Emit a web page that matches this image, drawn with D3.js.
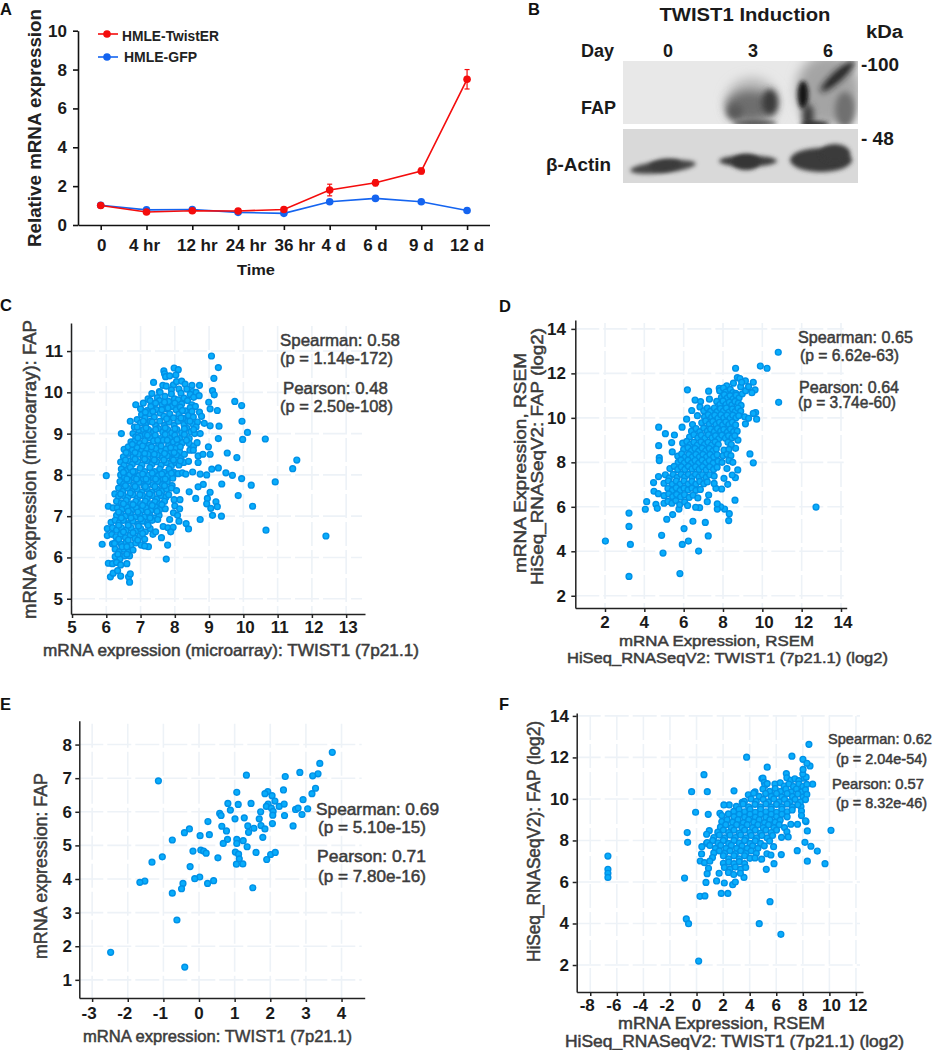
<!DOCTYPE html>
<html><head><meta charset="utf-8">
<script src="https://cdnjs.cloudflare.com/ajax/libs/d3/7.8.5/d3.min.js"></script>
<style>html,body{margin:0;padding:0;background:#fff}svg{display:block}text{font-family:"Liberation Sans",Arial,sans-serif}</style>
</head><body><div id="c"></div>
<script>
const timeLabels=["0","4 hr","12 hr","24 hr","36 hr","4 d","6 d","9 d","12 d"];
const twistER=[1.0,0.67,0.73,0.72,0.8,1.8,2.17,2.78,7.5];
const twistErr=[0.1,0.1,0.1,0.08,0.1,0.3,0.15,0.15,0.5];
const gfp=[1.02,0.78,0.8,0.65,0.6,1.2,1.37,1.2,0.75];
const gfpErr=[0.05,0.06,0.06,0.05,0.05,0.1,0.1,0.08,0.08];

const pointsC=[[6.0,7.98],[9.07,10.88],[9.27,10.6],[9.14,10.34],[9.1,10.04],[9.15,9.94],[8.99,9.76],[9.03,9.6],[9.24,9.56],[9.75,9.78],[9.95,9.68],[9.96,9.3],[9.29,9.18],[9.03,9.19],[10.12,9.03],[9.98,8.86],[10.64,8.87],[9.27,8.88],[8.98,8.68],[9.03,8.5],[9.53,8.53],[9.81,8.42],[11.56,8.36],[11.44,8.15],[10.93,7.83],[10.23,7.75],[9.95,7.91],[9.68,7.99],[9.49,8.05],[9.27,8.17],[9.08,8.14],[8.93,8.0],[8.74,8.02],[8.52,8.07],[9.37,7.78],[8.83,7.77],[8.68,7.71],[8.42,7.59],[9.03,7.58],[8.95,7.43],[8.61,7.43],[9.85,7.5],[10.27,7.24],[9.2,7.35],[9.24,7.23],[8.93,7.3],[9.05,7.19],[9.1,7.02],[9.36,7.0],[8.74,6.92],[8.33,6.82],[8.4,6.69],[10.66,6.66],[12.41,6.52],[7.75,5.96],[7.79,6.3],[7.61,6.48],[7.23,6.26],
[7.68,10.52],[7.7,10.45],[7.73,10.38],[7.85,10.4],[7.98,10.59],[8.1,10.55],[8.03,10.42],[7.38,10.24],[7.65,10.17],[7.75,10.15],[7.96,10.18],[8.05,10.26],[8.2,10.27],[8.3,10.2],[8.5,10.17],[8.72,10.17],[8.35,10.08],[8.52,10.02],[8.62,10.0],[7.55,10.02],[7.9,10.06],[8.12,10.08],
[7.33,9.97],[7.49,9.87],[7.57,10.0],[7.71,9.9],[7.9,9.96],[7.99,9.84],[8.18,9.98],[8.27,9.86],[8.45,9.95],[8.55,9.88],[8.71,9.92],
[7.08,9.74],[7.22,9.84],[7.36,9.72],[7.55,9.8],[7.63,9.7],[7.82,9.78],[7.92,9.66],[8.1,9.82],[8.2,9.72],[8.37,9.8],[8.5,9.7],
[6.86,9.7],[7.0,9.6],[7.19,9.56],[7.3,9.66],[7.46,9.58],[7.72,9.6],[8.04,9.58],[8.16,9.64],[8.31,9.55],[8.45,9.63],[8.6,9.66],
[7.03,9.46],[7.13,9.38],[7.27,9.48],[7.4,9.4],[7.57,9.5],[7.68,9.42],[7.85,9.48],[7.96,9.38],[8.12,9.47],[8.24,9.37],[8.4,9.44],[8.54,9.4],[8.72,9.52],[8.78,9.42],
[6.9,9.34],[7.0,9.26],[7.15,9.22],[7.29,9.3],[7.44,9.2],[7.56,9.3],[7.7,9.2],[7.83,9.28],[7.98,9.2],[8.1,9.3],[8.27,9.22],[8.38,9.3],[8.52,9.24],[8.66,9.28],
[6.7,9.3],[6.82,9.16],[6.95,9.08],[7.09,9.1],[7.23,9.1],[7.38,9.04],[7.52,9.12],[7.65,9.04],[7.79,9.1],[7.91,9.02],[8.06,9.1],[8.2,9.02],[8.35,9.13],[8.47,9.04],[8.62,9.16],[8.86,9.25],
[6.78,9.0],[6.86,8.92],[7.0,8.94],[7.14,8.98],[7.27,8.9],[7.43,8.96],[7.58,8.88],[7.72,8.98],[7.85,8.88],[8.0,8.96],[8.14,8.88],[8.28,8.98],[8.42,8.88],[8.58,9.0],[8.74,9.0],
[6.44,9.0],[6.72,8.8],[6.84,8.82],[6.98,8.76],[7.12,8.82],[7.25,8.72],[7.38,8.82],[7.53,8.74],[7.66,8.84],[7.82,8.72],[7.96,8.8],[8.08,8.72],[8.22,8.78],[8.42,8.76],[8.55,8.7],[8.65,8.78],
[6.52,8.62],[6.64,8.68],[6.76,8.6],[6.9,8.66],[7.03,8.58],[7.17,8.64],[7.31,8.56],[7.45,8.64],[7.6,8.58],[7.74,8.62],[7.88,8.54],[8.02,8.64],[8.14,8.56],[8.44,8.6],[8.54,8.6],
[6.5,8.44],[6.63,8.52],[6.78,8.44],[6.94,8.5],[7.08,8.42],[7.22,8.5],[7.36,8.4],[7.49,8.48],[7.64,8.42],[7.78,8.46],[7.92,8.38],[8.05,8.48],[8.18,8.4],[8.68,8.46],[8.82,8.5],
[6.42,8.31],[6.52,8.24],[6.64,8.34],[6.76,8.26],[6.92,8.32],[7.04,8.24],[7.18,8.34],[7.33,8.26],[7.47,8.32],[7.6,8.24],[7.75,8.3],[7.9,8.22],[8.02,8.3],[8.12,8.24],[8.26,8.3],[8.4,8.33],[8.68,8.3],
[6.44,8.14],[6.58,8.1],[6.7,8.18],[6.84,8.08],[6.99,8.16],[7.12,8.08],[7.27,8.18],[7.41,8.08],[7.56,8.14],[7.68,8.06],[7.83,8.14],[7.97,8.06],
[6.42,8.0],[6.53,7.94],[6.68,8.0],[6.82,7.92],[6.95,7.98],[7.08,7.9],[7.24,7.99],[7.38,7.92],[7.52,7.98],[7.66,7.9],[7.8,7.98],[7.94,7.92],[8.1,8.03],[8.22,8.05],[8.32,8.02],
[6.4,7.84],[6.51,7.78],[6.66,7.85],[6.8,7.76],[6.95,7.82],[7.1,7.74],[7.22,7.84],[7.36,7.76],[7.5,7.84],[7.64,7.76],[7.78,7.83],[7.92,7.74],
[6.36,7.68],[6.48,7.6],[6.62,7.68],[6.76,7.6],[6.9,7.66],[7.04,7.58],[7.19,7.67],[7.33,7.58],[7.47,7.66],[7.62,7.6],[7.76,7.66],[7.9,7.68],[8.05,7.62],
[6.25,7.54],[6.36,7.48],[6.5,7.5],[6.63,7.46],[6.78,7.52],[6.91,7.44],[7.06,7.5],[7.2,7.44],[7.34,7.5],[7.48,7.42],[7.6,7.5],[7.74,7.46],
[6.3,7.36],[6.44,7.32],[6.58,7.38],[6.72,7.3],[6.86,7.36],[7.0,7.3],[7.14,7.36],[7.28,7.3],[7.42,7.35],[7.56,7.3],[7.7,7.36],[7.98,7.4],[8.15,7.4],
[6.06,7.24],[6.2,7.2],[6.32,7.2],[6.46,7.16],[6.6,7.22],[6.74,7.14],[6.88,7.2],[7.02,7.14],[7.16,7.2],[7.3,7.14],[7.44,7.22],[7.56,7.16],[7.72,7.18],[8.0,7.25],[8.14,7.18],
[6.3,7.02],[6.42,7.06],[6.56,7.0],[6.7,7.06],[6.84,6.98],[6.98,7.04],[7.12,6.98],[7.26,7.04],[7.4,6.96],[7.54,7.02],[7.96,7.08],[8.08,7.02],
[6.14,6.85],[6.26,6.9],[6.38,6.84],[6.5,6.9],[6.64,6.82],[6.78,6.88],[6.92,6.8],[7.06,6.88],[7.2,6.82],[7.34,6.9],[7.5,6.92],[7.85,6.92],[8.12,6.88],
[6.03,6.7],[6.18,6.72],[6.3,6.66],[6.44,6.72],[6.58,6.66],[6.72,6.72],[6.86,6.64],[7.0,6.7],[7.14,6.62],[7.28,6.7],[7.66,6.75],[7.8,6.72],[7.95,6.73],[7.88,6.62],
[6.03,6.53],[6.16,6.56],[6.28,6.5],[6.42,6.56],[6.56,6.48],[6.7,6.54],[6.84,6.46],[6.98,6.52],[7.12,6.44],[7.36,6.56],[7.44,6.62],
[5.88,6.32],[6.18,6.33],[6.3,6.38],[6.44,6.32],[6.58,6.36],[6.72,6.3],[6.86,6.35],[7.02,6.3],[7.12,6.28],
[6.26,6.2],[6.38,6.14],[6.52,6.2],[6.65,6.14],[6.78,6.18],[6.26,6.02],[6.4,5.97],[6.54,6.04],[6.68,6.04],
[6.06,5.86],[6.18,5.85],[6.3,5.88],[6.42,5.82],[6.6,5.85],[6.12,5.53],[6.2,5.62],[6.33,5.68],[6.42,5.55],[6.65,5.53],[6.7,5.6],[6.68,5.4],
[7.28,9.8],[7.44,9.74],[7.7,9.76],[8.0,9.74],[7.14,9.52],[7.36,9.54],[7.62,9.58],[7.8,9.62],[8.22,9.56],[8.5,9.54],[7.08,9.3],[7.34,9.28],[7.76,9.36],[8.18,9.38],[8.44,9.3],[6.9,9.16],[7.16,9.14],[7.44,9.1],[7.72,9.14],[8.0,9.12],[8.28,9.12],[8.55,9.1],
[6.92,8.9],[7.2,8.96],[7.5,8.84],[7.78,8.84],[8.06,8.86],[8.34,8.84],[6.76,8.74],[7.06,8.7],[7.32,8.68],[7.6,8.7],[7.88,8.66],[8.16,8.68],[6.58,8.54],[6.84,8.54],[7.12,8.52],[7.4,8.5],[7.7,8.52],[7.98,8.54],[8.28,8.5],[6.56,8.36],[6.84,8.38],[7.12,8.38],[7.4,8.36],[7.68,8.36],[7.96,8.36],[8.16,8.34],
[6.5,8.06],[6.78,8.08],[7.06,8.02],[7.34,8.04],[7.62,8.02],[7.9,8.04],[6.6,7.9],[6.88,7.9],[7.16,7.9],[7.44,7.9],[7.72,7.9],[6.56,7.74],[6.84,7.72],[7.14,7.72],[7.42,7.72],[7.7,7.74],[6.42,7.54],[6.7,7.56],[6.98,7.52],[7.26,7.54],[7.54,7.56],[7.82,7.52],[6.5,7.3],[6.78,7.28],[7.06,7.26],[7.34,7.26],[7.62,7.28],[6.36,7.1],[6.64,7.12],[6.92,7.1],[7.2,7.1],[7.48,7.12],[6.44,6.96],[6.72,6.96],[7.0,6.94],[7.28,6.96],[6.36,6.78],[6.64,6.78],[6.94,6.76],[7.22,6.78],[6.5,6.62],[6.78,6.6],[7.06,6.58],[6.36,6.44],[6.64,6.42],[6.92,6.42],[6.46,6.26],[6.6,6.26],[6.34,6.08],[6.6,6.08],[6.24,6.34]];

const pointsD=[[10.81,12.95],[9.9,12.33],[10.24,12.23],[8.64,12.23],[10.83,10.7],[12.73,5.99],[2.02,4.46],[3.22,5.72],[3.22,5.12],[3.29,4.31],[3.22,2.87],[5.81,3.0],[4.95,3.92],[4.88,4.72],[5.93,4.31],[6.24,4.46],[6.76,4.01],[7.25,4.69],[6.02,5.02],[5.14,5.44],[5.44,5.65],[6.47,5.35],[7.1,5.3],[8.29,5.38],[8.32,5.69],[8.08,5.9],[7.88,6.0],[7.71,5.9],[7.71,6.13],[8.61,6.3],[9.54,7.98],[9.37,8.38],[6.81,5.96],[6.61,5.98],[5.76,5.9],[4.05,5.89],[4.12,6.23],[4.59,6.11],[4.66,5.93],[4.47,7.09],[4.49,6.7],[4.71,6.59],[4.73,9.58],[5.07,9.29],[5.53,9.23],[5.39,8.89],[4.73,8.75],[4.76,8.21],[4.76,8.08],[5.42,8.47],[5.92,9.58],[6.19,11.26],[7.27,11.2],[6.58,10.8],[6.86,10.73],[7.31,10.84],[6.83,10.49],[6.41,10.33],[6.15,9.94],[9.71,9.94],[9.66,10.24],[9.54,10.2],[9.14,9.73],[9.54,11.6],[9.63,11.26],[9.47,11.13],[9.14,11.66],[8.73,11.81],[8.86,11.77],[7.81,11.33],[8.19,11.44],[8.53,11.56],[8.76,9.0],[8.64,8.63],[8.75,7.66],[8.63,7.31],[8.47,7.43],[8.05,7.28],[8.24,7.01],[7.93,6.8],[7.64,6.83],[7.27,6.53],[7.2,6.23],
[7.83,11.22],[8.02,11.34],[8.15,11.16],[8.37,11.28],[8.5,11.14],[8.65,11.1],[7.92,10.92],[8.07,11.04],[8.22,10.9],[8.36,11.0],[8.52,10.86],[8.67,11.02],[8.82,10.9],[8.98,11.08],[9.15,11.22],[9.3,11.4],[8.9,11.4],[8.95,11.6],
[7.68,10.74],[7.84,10.6],[8.0,10.76],[8.15,10.6],[8.32,10.7],[8.45,10.58],[8.61,10.74],[8.78,10.66],[8.92,10.56],
[7.02,10.32],[7.2,10.44],[7.37,10.3],[7.56,10.44],[7.7,10.28],[7.87,10.42],[8.02,10.3],[8.17,10.44],[8.31,10.26],[8.48,10.4],[8.62,10.28],[8.76,10.44],[8.9,10.3],
[6.7,10.1],[7.06,10.04],[7.25,10.14],[7.42,10.02],[7.58,10.12],[7.74,9.98],[7.89,10.14],[8.04,10.0],[8.2,10.12],[8.36,9.98],[8.5,10.12],[8.66,10.0],[8.8,10.1],[9.1,10.05],[9.3,9.98],
[6.92,9.78],[7.12,9.86],[7.3,9.72],[7.48,9.84],[7.64,9.7],[7.82,9.8],[7.98,9.68],[8.14,9.82],[8.3,9.7],[8.47,9.8],[8.64,9.68],[6.45,9.7],
[6.4,9.4],[6.63,9.52],[6.82,9.38],[7.02,9.54],[7.2,9.4],[7.37,9.5],[7.56,9.38],[7.72,9.52],[7.88,9.4],[8.04,9.48],[8.22,9.36],[8.38,9.5],[8.54,9.38],[8.72,9.4],
[6.3,9.14],[6.52,9.24],[6.72,9.1],[6.9,9.22],[7.08,9.08],[7.26,9.24],[7.44,9.1],[7.62,9.2],[7.78,9.06],[7.94,9.22],[8.12,9.08],[8.28,9.2],[8.46,9.1],[8.6,9.2],
[5.95,8.86],[6.16,8.94],[6.34,8.8],[6.52,8.9],[6.7,8.78],[6.88,8.92],[7.06,8.8],[7.24,8.9],[7.42,8.78],[7.6,8.92],[7.76,8.8],[8.25,8.9],[8.42,8.8],
[6.0,8.58],[6.22,8.66],[6.4,8.52],[6.58,8.62],[6.76,8.5],[6.94,8.64],[7.12,8.52],[7.3,8.62],[7.48,8.5],[7.66,8.6],[8.05,8.55],[8.3,8.58],
[5.7,8.28],[5.9,8.38],[6.08,8.24],[6.26,8.36],[6.44,8.24],[6.62,8.36],[6.8,8.24],[6.98,8.36],[7.16,8.24],[7.34,8.36],[7.52,8.24],[7.7,8.34],[8.0,8.3],[8.2,8.36],[8.4,8.3],
[5.72,8.0],[5.86,8.1],[6.04,7.98],[6.22,8.1],[6.4,7.96],[6.58,8.08],[6.76,7.96],[6.94,8.1],[7.12,7.98],[7.3,8.08],[7.5,7.96],[7.75,8.05],[7.95,8.0],[8.3,8.08],[8.5,8.0],
[5.3,7.72],[5.52,7.82],[5.7,7.68],[5.88,7.8],[6.06,7.68],[6.24,7.82],[6.42,7.7],[6.6,7.8],[6.78,7.68],[6.96,7.8],[7.14,7.66],[7.32,7.8],[7.52,7.68],[7.7,7.78],[8.2,7.72],
[4.72,7.36],[5.07,7.44],[5.27,7.3],[5.47,7.46],[5.67,7.32],[5.87,7.46],[6.05,7.34],[6.24,7.46],[6.42,7.32],[6.6,7.46],[6.78,7.34],[6.96,7.44],[7.14,7.32],[7.32,7.44],[7.55,7.38],
[5.0,7.06],[5.22,7.16],[5.42,7.02],[5.62,7.16],[5.82,7.02],[6.02,7.16],[6.22,7.02],[6.42,7.14],[6.62,7.02],[6.82,7.14],[7.02,7.04],[7.2,7.12],[7.55,7.05],
[5.2,6.82],[5.42,6.74],[5.62,6.86],[5.82,6.74],[6.02,6.84],[6.22,6.76],[6.42,6.84],[6.62,6.74],[6.85,6.78],
[5.0,6.5],[5.24,6.58],[5.44,6.46],[5.64,6.56],[5.84,6.44],[6.04,6.54],[6.28,6.42],[6.48,6.52],[6.72,6.4],
[5.0,6.16],[5.2,6.24],[5.4,6.16],[5.6,6.28],[5.8,6.1],[6.05,6.22],[6.2,6.06]];

const pointsE=[[3.74,7.77],[3.39,7.44],[3.34,7.13],[3.19,7.07],[2.83,7.17],[2.42,7.05],[1.33,7.09],[-1.14,6.92],[3.27,6.7],[3.17,6.54],[2.37,6.65],[1.06,6.58],[1.93,6.6],[1.85,6.54],[2.05,6.48],[2.92,6.36],[2.13,6.32],[0.81,6.25],[1.1,6.22],[1.46,6.25],[1.94,6.23],[1.89,6.16],[2.03,6.11],[2.25,6.16],[2.39,6.23],[0.88,6.05],[0.58,5.95],[0.62,5.89],[1.73,6.0],[2.08,6.01],[2.07,5.9],[2.4,5.89],[2.71,6.07],[2.78,6.11],[3.05,6.09],[2.89,5.92],[1.01,5.79],[1.27,5.82],[1.69,5.79],[0.25,5.71],[2.06,5.65],[0.64,5.57],[1.37,5.58],[1.74,5.59],[2.64,5.58],[0.77,5.43],[1.39,5.39],[1.54,5.51],[1.85,5.49],[-0.27,5.49],[-0.41,5.38],[0.03,5.29],[0.29,5.32],[1.79,5.24],[-0.75,5.16],[0.8,5.18],[0.68,5.06],[1.06,5.18],[1.06,5.06],[1.24,5.14],[1.35,4.96],[-0.17,4.83],[0.05,4.86],[0.13,4.83],[0.2,4.77],[1.02,4.8],[1.6,4.79],[1.11,4.74],[2.01,4.73],[2.14,4.79],[0.53,4.63],[-1.03,4.66],[-1.32,4.5],[1.13,4.6],[1.9,4.58],[1.05,4.44],[1.23,4.45],[-0.25,4.37],[0.02,4.06],[-0.12,4.01],[-0.45,3.87],[-1.52,3.94],[-1.66,3.9],[0.41,3.95],[0.24,3.87],[-0.49,3.71],[-0.75,3.58],[1.51,3.74],[-0.62,2.78],[-2.48,1.82],[-0.4,1.38]];

const pointsF=[[8.46,12.63],[3.77,12.01],[7.18,12.06],[8.01,11.91],[8.54,11.59],[0.56,11.17],[5.32,11.53],[-0.37,10.35],[0.81,10.35],[2.82,10.39],[-0.07,9.36],[0.88,9.26],[10.12,8.49],[-0.7,8.38],[-0.67,7.91],[-6.67,7.25],[-6.67,6.61],[-6.67,6.42],[-6.67,6.22],[-0.9,6.19],[0.28,7.01],[0.38,7.35],[9.67,6.88],[9.09,7.49],[8.61,7.72],[8.34,7.0],[7.58,7.51],[8.16,7.91],[5.25,6.61],[5.83,6.88],[6.38,7.32],[0.71,5.98],[1.51,6.05],[2.09,5.95],[2.72,5.87],[2.92,6.0],[3.57,6.22],[1.86,5.45],[2.36,5.45],[0.26,5.31],[0.63,5.33],[5.53,5.05],[-0.77,4.22],[-0.6,3.99],[4.72,3.99],[6.35,3.48],[0.16,2.19],[8.74,10.71],[8.31,11.72],[6.76,11.22],[4.92,10.98],[3.44,9.84],[2.46,9.71],[2.06,9.71],[1.76,9.31],[7.86,9.63],[8.24,8.91],[8.34,8.46],[7.6,8.78],[0.96,8.47],[0.76,8.3],[0.76,7.86],
[5.0,11.0],[5.1,10.8],[6.8,11.02],[7.1,10.9],[7.4,10.97],[7.7,10.88],[8.1,11.0],[8.25,11.05],[8.0,11.2],[8.02,11.42],
[5.15,10.66],[5.32,10.74],[5.9,10.72],[6.3,10.78],[6.6,10.62],[6.95,10.72],[7.3,10.6],[7.7,10.72],[8.0,10.6],[8.3,10.7],
[4.4,10.34],[5.0,10.48],[5.5,10.36],[5.92,10.5],[6.32,10.36],[6.72,10.48],[7.12,10.34],[7.52,10.48],[7.92,10.34],[8.2,10.45],
[3.9,10.2],[4.3,10.28],[4.72,10.12],[5.2,10.26],[5.62,10.12],[6.02,10.26],[6.42,10.1],[6.82,10.26],[7.22,10.12],[7.62,10.24],[8.02,10.1],[8.3,10.22],
[3.6,9.88],[4.1,10.0],[4.5,9.88],[5.02,9.98],[5.42,9.86],[5.82,10.0],[6.22,9.86],[6.62,9.98],[7.02,9.86],[7.42,9.98],[7.82,9.86],[8.2,9.97],
[3.0,9.64],[3.5,9.76],[3.92,9.62],[4.4,9.74],[4.82,9.62],[5.22,9.76],[5.62,9.62],[6.02,9.74],[6.42,9.62],[6.82,9.76],[7.22,9.62],[7.62,9.72],
[2.8,9.4],[3.2,9.5],[3.62,9.38],[4.02,9.5],[4.42,9.36],[4.82,9.5],[5.22,9.38],[5.62,9.5],[6.02,9.36],[6.42,9.5],[6.82,9.38],[7.2,9.47],[7.9,9.42],
[1.9,9.2],[2.4,9.28],[2.82,9.14],[3.22,9.26],[3.62,9.12],[4.02,9.26],[4.42,9.12],[4.82,9.26],[5.22,9.12],[5.62,9.26],[6.02,9.14],[6.42,9.26],[6.82,9.14],[7.9,9.2],
[1.9,8.9],[2.3,9.0],[2.72,8.88],[3.12,9.0],[3.52,8.86],[3.92,9.0],[4.32,8.88],[4.72,9.0],[5.12,8.86],[5.52,9.0],[5.92,8.88],[6.3,8.98],[8.2,8.95],
[1.8,8.64],[2.2,8.76],[2.62,8.62],[3.02,8.76],[3.42,8.62],[3.82,8.76],[4.22,8.62],[4.62,8.76],[5.02,8.62],[5.42,8.76],[5.82,8.62],[6.22,8.76],[6.62,8.62],[7.1,8.78],
[1.6,8.4],[2.02,8.5],[2.42,8.38],[2.82,8.5],[3.22,8.36],[3.62,8.5],[4.02,8.38],[4.42,8.5],[4.82,8.36],[5.22,8.5],[5.62,8.38],[6.02,8.5],[6.8,8.42],
[1.3,8.14],[1.72,8.26],[2.12,8.12],[2.52,8.26],[2.92,8.14],[3.32,8.26],[3.72,8.12],[4.12,8.24],[4.52,8.12],[4.92,8.24],[5.32,8.12],[5.72,8.24],[6.4,8.15],[6.9,8.17],
[0.8,7.9],[1.22,8.0],[1.62,7.88],[2.02,8.0],[2.42,7.86],[2.82,8.0],[3.22,7.88],[3.62,8.0],[4.02,7.86],[4.42,7.98],[4.82,7.86],[5.5,7.97],
[0.4,7.7],[1.0,7.76],[1.42,7.62],[1.82,7.76],[2.22,7.62],[2.62,7.76],[3.02,7.62],[3.42,7.74],[3.82,7.62],[4.22,7.74],[4.62,7.62],[5.1,7.74],[5.8,7.7],
[1.3,7.4],[1.72,7.5],[2.12,7.38],[2.52,7.5],[2.92,7.36],[3.32,7.5],[3.72,7.38],[4.12,7.5],[4.5,7.38],[5.3,7.36],
[1.2,7.18],[2.02,7.26],[2.42,7.12],[2.82,7.26],[3.22,7.12],[3.62,7.26],[4.02,7.14],[4.4,7.16],[4.9,7.1],[5.6,7.3],
[0.6,6.93],[1.0,7.0],[2.02,6.9],[2.42,6.96],[2.82,6.88],[3.22,6.98],[3.62,6.88],
[0.9,6.66],[2.1,6.7],[2.52,6.62],[2.92,6.72],[3.32,6.62],[3.7,6.7],
[0.8,6.4],[1.7,6.42],[2.4,6.46],[2.8,6.36],[3.3,6.42]];

const W=933,H=1050;
const svg=d3.select("#c").append("svg").attr("width",W).attr("height",H);
const defs=svg.append("defs");
[["b6",6],["b5",5],["b3",3],["b2",2],["b7",8]].forEach(([id,s])=>defs.append("filter").attr("id",id).attr("x","-80%").attr("y","-80%").attr("width","260%").attr("height","260%").append("feGaussianBlur").attr("stdDeviation",s));

const DARK="#1a1a1a",GREY="#3c3c3c";
function txt(x,y,s,o={}){
  const t=svg.append("text").attr("x",x).attr("y",y).text(s)
    .attr("font-size",o.size||16).attr("font-weight",o.weight||"bold").attr("fill",o.fill||DARK)
    .attr("text-anchor",o.anchor||"start");
  if(o.len){t.attr("textLength",o.len).attr("lengthAdjust","spacingAndGlyphs");}
  if(o.stroke){t.attr("stroke",o.fill||DARK).attr("stroke-width",o.stroke);}
  if(o.rot!=null){t.attr("transform",`rotate(${o.rot} ${x} ${y})`);}
  return t;
}
function medium(x,y,s,len,size,extra={}){return txt(x,y,s,Object.assign({len,size,weight:"normal",fill:GREY,stroke:0.5},extra));}

// panel letters
[["A",0,15],["B",528,15],["C",0,311],["D",499,312],["E",0,710],["F",499,710]].forEach(d=>txt(d[1],d[2],d[0],{size:16.5,fill:"#111"}));

// Panel A
(function(){
  const x=d3.scaleLinear().domain([-0.496,8.49]).range([78,489.5]);
  const y=d3.scaleLinear().domain([0,10]).range([225,30.7]);
  const gx=svg.append("g").attr("transform","translate(0,225)").call(d3.axisBottom(x).tickValues(d3.range(9)).tickSize(5).tickSizeOuter(0).tickFormat(""));
  const gy=svg.append("g").attr("transform","translate(78,0)").call(d3.axisLeft(y).tickValues(d3.range(0,11,2)).tickSize(5).tickSizeOuter(0).tickFormat(""));
  [gx,gy].forEach(g=>{g.selectAll("path,line").attr("stroke","#111").attr("stroke-width",1.6);});
  d3.range(0,11,2).forEach(v=>txt(67,y(v)+6,String(v),{size:17,anchor:"end"}));
  const shift=[1,-2,5,8,11,4,0,0,0];
  timeLabels.forEach((l,i)=>txt(x(i)+shift[i],251,l,{size:17,anchor:"middle"}));
  txt(256,275,"Time",{size:15.5,anchor:"middle",len:38});
  txt(41,247,"Relative mRNA expression",{size:17.5,rot:-90,len:238,weight:"bold"}).attr("fill","#222");
  const line=d3.line().x((d,i)=>x(i)).y(d=>y(d));
  [[gfp,gfpErr,"#1464f0"],[twistER,twistErr,"#f40c0c"]].forEach(([v,e,c])=>{
    svg.append("path").attr("d",line(v)).attr("fill","none").attr("stroke",c).attr("stroke-width",1.6);
    const g=svg.append("g");
    v.forEach((d,i)=>{
      g.append("line").attr("x1",x(i)).attr("x2",x(i)).attr("y1",y(d-e[i])).attr("y2",y(d+e[i])).attr("stroke",c).attr("stroke-width",1.2);
      [d-e[i],d+e[i]].forEach(q=>g.append("line").attr("x1",x(i)-2.5).attr("x2",x(i)+2.5).attr("y1",y(q)).attr("y2",y(q)).attr("stroke",c).attr("stroke-width",1.2));
      g.append("circle").attr("cx",x(i)).attr("cy",y(d)).attr("r",3.8).attr("fill",c);
    });
  });
  [[34,"HMLE-TwistER","#f40c0c",122,41,97],[57,"HMLE-GFP","#1464f0",124,62,73]].forEach(d=>{
    svg.append("line").attr("x1",98).attr("x2",118).attr("y1",d[0]).attr("y2",d[0]).attr("stroke",d[2]).attr("stroke-width",1.6);
    svg.append("circle").attr("cx",107).attr("cy",d[0]).attr("r",3.8).attr("fill",d[2]);
    txt(d[3],d[4],d[1],{size:15,len:d[5],fill:"#222"});
  });
})();

// Panel B blot
(function(){
  svg.append("clipPath").attr("id","p1").append("rect").attr("x",623).attr("y",61).attr("width",235).attr("height",63);
  svg.append("clipPath").attr("id","p2").append("rect").attr("x",623).attr("y",129).attr("width",235).attr("height",54);
  const g1=svg.append("g").attr("clip-path","url(#p1)");
  g1.append("rect").attr("x",623).attr("y",61).attr("width",235).attr("height",63).attr("fill","#e8e8e8");
  const blob=(g,cx,cy,rx,ry,f,flt,rot)=>g.append("ellipse").attr("cx",cx).attr("cy",cy).attr("rx",rx).attr("ry",ry).attr("fill",f).attr("filter",`url(#${flt})`).attr("transform",rot?`rotate(${rot} ${cx} ${cy})`:null);
  blob(g1,752,102,26,24,"#b4b4b4","b6");
  blob(g1,750,106,24,15,"#6e6e6e","b5");
  blob(g1,770,102,8,13,"#3a3a3a","b3");
  blob(g1,735,112,8,8,"#5a5a5a","b3");
  blob(g1,755,123,22,3,"#555","b2");
  blob(g1,828,90,32,36,"#a4a4a4","b6");
  blob(g1,845,110,10,18,"#707070","b3");
  blob(g1,803,95,5.5,14,"#141414","b2");
  blob(g1,808,116,6,12,"#3a3a3a","b3");
  blob(g1,838,76,23,5,"#1e1e1e","b3",-42);
  blob(g1,815,124,14,3,"#2a2a2a","b2");
  const g2=svg.append("g").attr("clip-path","url(#p2)");
  g2.append("rect").attr("x",623).attr("y",129).attr("width",235).attr("height",54).attr("fill","#d9d9d9");
  blob(g2,663,167,33,6,"#444","b2",-6);
  blob(g2,665,165,16,6,"#3a3a3a","b2",-6);
  blob(g2,748,161,29,5.5,"#3c3c3c","b2");
  blob(g2,746,162,14,8,"#363636","b2");
  blob(g2,821,160,31,12,"#3a3a3a","b2");
  blob(g2,835,153,15,9,"#3a3a3a","b2");
  txt(745,21,"TWIST1 Induction",{size:19,anchor:"middle",len:171});
  txt(866,38,"kDa",{size:18,len:37});
  txt(581,57,"Day",{size:18,len:33});
  [["0",668],["3",753],["6",828]].forEach(d=>txt(d[1],57,d[0],{size:18,anchor:"middle"}));
  txt(861,71,"-100",{size:19});
  txt(861,145,"- 48",{size:19});
  txt(581,114,"FAP",{size:18,len:35});
  txt(546,171,"β-Actin",{size:18,len:65});
})();

// scatter panels
function scatter(o){
  const x=d3.scaleLinear().domain(o.xd).range(o.xr);
  const y=d3.scaleLinear().domain(o.yd).range(o.yr);
  const grid=svg.append("g").attr("stroke","#edf2f7").attr("stroke-width",1.6).attr("fill","none").attr("stroke-dasharray","24 4");
  o.xt.forEach(v=>grid.append("line").attr("x1",x(v)).attr("x2",x(v)).attr("y1",o.yr[1]+3).attr("y2",o.yr[0]));
  o.yt.forEach(v=>grid.append("line").attr("y1",y(v)).attr("y2",y(v)).attr("x1",o.xr[0]).attr("x2",o.xr[1]-3));
  const gx=svg.append("g").attr("transform",`translate(0,${o.yr[0]})`).call(d3.axisBottom(x).tickValues(o.xt).tickSize(4).tickSizeOuter(0).tickFormat(""));
  const gy=svg.append("g").attr("transform",`translate(${o.xr[0]},0)`).call(d3.axisLeft(y).tickValues(o.yt).tickSize(4).tickSizeOuter(0).tickFormat(""));
  [gx,gy].forEach(g=>{g.selectAll("path,line").attr("stroke","#222").attr("stroke-width",1.5);});
  o.xt.forEach(v=>txt(x(v)+(String(v).length>1&&v>0?2:0)-(v<0?3:0),o.xb,String(v),{size:17,anchor:"middle"}));
  o.yt.forEach(v=>txt(o.yl,y(v)+6,String(v),{size:17,anchor:"end"}));
  svg.append("g").selectAll("circle").data(o.pts).join("circle")
    .attr("cx",d=>x(d[0])).attr("cy",d=>y(d[1])).attr("r",2.9)
    .attr("fill","#08adfb").attr("stroke","#0090e6").attr("stroke-width",1.4);
  o.stats.forEach(s=>medium(s[0],s[1],s[2],s[3],o.ss));
  o.titles.forEach(t=>medium(t[0],t[1],t[2],t[3],t[5]||o.ts,t[4]?{rot:-90}:{}));
}
scatter({xd:[4.97,13.55],xr:[71,365],yd:[4.63,11.68],yr:[614,323],xt:d3.range(5,14),yt:d3.range(5,12),xb:633,yl:63,pts:pointsC,ss:16.8,ts:16.5,
  stats:[[280,346,"Spearman: 0.58",120],[280,364,"(p = 1.14e-172)",113],[283,394,"Pearson: 0.48",105],[280,412,"(p = 2.50e-108)",113]],
  titles:[[43,656,"mRNA expression (microarray): TWIST1 (7p21.1)",376],[36,619,"mRNA expression (microarray): FAP",299,true,17.5]]});
scatter({xd:[0.49,14.29],xr:[575.3,846.7],yd:[1.45,14.4],yr:[608,320],xt:d3.range(2,15,2),yt:d3.range(2,15,2),xb:628,yl:566,pts:pointsD,ss:16,ts:15.5,
  stats:[[798,343,"Spearman: 0.65",115],[800,361,"(p = 6.62e-63)",99],[799,393,"Pearson: 0.64",100],[798,408,"(p = 3.74e-60)",98]],
  titles:[[619,646,"mRNA Expression, RSEM",195],[567,663,"HiSeq_RNASeqV2: TWIST1 (7p21.1) (log2)",321],[526,573,"mRNA Expression, RSEM",220,true,17],[543,585,"HiSeq_RNASeqV2: FAP (log2)",257,true,17]]});
scatter({xd:[-3.36,4.65],xr:[79.3,364.7],yd:[0.46,8.71],yr:[998,720.7],xt:d3.range(-3,5),yt:d3.range(1,9),xb:1019,yl:72,pts:pointsE,ss:17,ts:16.5,
  stats:[[316,815,"Spearman: 0.69",123],[318,833,"(p = 5.10e-15)",108],[317,862,"Pearson: 0.71",109],[318,882,"(p = 7.80e-16)",108]],
  titles:[[83,1042,"mRNA expression: TWIST1 (7p21.1)",269],[47,959,"mRNA expression: FAP",186,true,17.5]]});
scatter({xd:[-9.02,12.53],xr:[576.7,863],yd:[0.70,14.14],yr:[992,713],xt:d3.range(-8,13,2),yt:d3.range(2,15,2),xb:1011,yl:569,pts:pointsF,ss:14.6,ts:16.5,
  stats:[[828,744,"Spearman: 0.62",104],[836,764,"(p = 2.04e-54)",91],[832,789,"Pearson: 0.57",92],[836,808,"(p = 8.32e-46)",91]],
  titles:[[618,1029,"mRNA Expression, RSEM",207],[565,1047,"HiSeq_RNASeqV2: TWIST1 (7p21.1) (log2)",339],[540,962,"HiSeq_RNASeqV2): FAP (log2)",241,true,17.5]]});
</script></body></html>
